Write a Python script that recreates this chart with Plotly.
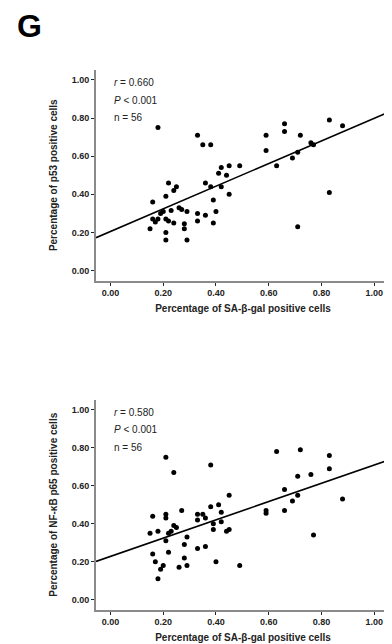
import plotly.graph_objects as go

# ---- data ----
sa_gal_p53 = [0.18, 0.33, 0.35, 0.38, 0.59, 0.59, 0.66, 0.66, 0.72, 0.83, 0.88, 0.76, 0.77, 0.71,
              0.69, 0.63, 0.49, 0.45, 0.42, 0.44, 0.41, 0.36, 0.38, 0.42, 0.45, 0.39, 0.40, 0.36,
              0.33, 0.33, 0.39, 0.29, 0.29, 0.28, 0.28, 0.27, 0.26, 0.24, 0.23, 0.25, 0.24, 0.22,
              0.21, 0.21, 0.21, 0.21, 0.22, 0.20, 0.19, 0.18, 0.17, 0.16, 0.16, 0.15, 0.71, 0.83]
p53 = [0.75, 0.71, 0.66, 0.66, 0.71, 0.63, 0.77, 0.73, 0.71, 0.79, 0.76, 0.67, 0.66, 0.62,
       0.59, 0.55, 0.55, 0.55, 0.54, 0.50, 0.51, 0.46, 0.44, 0.44, 0.40, 0.37, 0.31, 0.29,
       0.30, 0.26, 0.25, 0.31, 0.16, 0.245, 0.22, 0.32, 0.33, 0.25, 0.315, 0.44, 0.42, 0.46,
       0.39, 0.27, 0.20, 0.16, 0.26, 0.31, 0.30, 0.27, 0.255, 0.36, 0.27, 0.22, 0.23, 0.41]

sa_gal_nfkb = [0.21, 0.24, 0.38, 0.63, 0.72, 0.83, 0.83, 0.76, 0.71, 0.66, 0.71, 0.69, 0.88, 0.66,
               0.59, 0.59, 0.45, 0.38, 0.41, 0.42, 0.33, 0.35, 0.36, 0.33, 0.39, 0.42, 0.39, 0.44,
               0.45, 0.27, 0.21, 0.21, 0.16, 0.15, 0.18, 0.24, 0.25, 0.23, 0.22, 0.21, 0.29, 0.28,
               0.36, 0.33, 0.22, 0.16, 0.17, 0.28, 0.20, 0.19, 0.26, 0.29, 0.18, 0.40, 0.49, 0.77]
nfkb_p65 = [0.75, 0.67, 0.71, 0.78, 0.79, 0.76, 0.69, 0.66, 0.65, 0.58, 0.55, 0.52, 0.53, 0.47,
            0.47, 0.455, 0.55, 0.49, 0.50, 0.46, 0.45, 0.45, 0.43, 0.42, 0.40, 0.41, 0.37, 0.36,
            0.37, 0.47, 0.45, 0.43, 0.44, 0.35, 0.36, 0.39, 0.38, 0.36, 0.35, 0.31, 0.33, 0.29,
            0.28, 0.27, 0.25, 0.24, 0.20, 0.22, 0.18, 0.16, 0.17, 0.18, 0.11, 0.20, 0.18, 0.34]

# regression lines (intercept, slope)
fit_p53 = (0.205, 0.594)
fit_nfkb = (0.228, 0.481)

stats_p53 = ["<i>r</i> = 0.660", "<i>P</i> < 0.001", "n = 56"]
stats_nfkb = ["<i>r</i> = 0.580", "<i>P</i> < 0.001", "n = 56"]

x_title = "Percentage of SA-β-gal positive cells"
y_title_top = "Percentage of p53 positive cells"
y_title_bot = "Percentage of NF-κB p65 positive cells"

tick_vals = [0.0, 0.2, 0.4, 0.6, 0.8, 1.0]
tick_text = ["0.00", "0.20", "0.40", "0.60", "0.80", "1.00"]

# ---- layout geometry ----
# the page body has an 8px margin, so the figure starts at (8, 8) in the window
OFF = 8
W, H = 392 - OFF, 644 - OFF
XR = [-0.055, 1.06]
YR = [-0.052, 1.052]
FONT = "Liberation Sans, Arial, sans-serif"


def px_x(p):
    return (p - OFF) / W


def px_y(p):
    return 1 - (p - OFF) / H


fig = go.Figure()

panels = [
    (sa_gal_p53, p53, fit_p53, "x", "y"),
    (sa_gal_nfkb, nfkb_p65, fit_nfkb, "x2", "y2"),
]

for xs, ys, (b0, b1), xa, ya in panels:
    fig.add_trace(go.Scatter(x=xs, y=ys, mode="markers", xaxis=xa, yaxis=ya,
                             marker=dict(color="black", size=5), showlegend=False,
                             hoverinfo="x+y"))
    lx = [XR[0], XR[1] - 0.005]
    fig.add_trace(go.Scatter(x=lx, y=[b0 + b1 * v for v in lx], mode="lines",
                             xaxis=xa, yaxis=ya, line=dict(color="black", width=1.6),
                             showlegend=False, hoverinfo="skip"))

axis_common = dict(
    showgrid=False, zeroline=False, showline=True, linecolor="#8a8a8a", linewidth=2,
    ticks="outside", ticklen=3, tickwidth=1.2, tickcolor="#222",
    tickvals=tick_vals, ticktext=tick_text, automargin=False,
    tickfont=dict(family=FONT, size=9, color="#222", weight="bold"),
)

x_dom = [px_x(96), min(1.0, px_x(390))]
top_dom = [px_y(280.5), px_y(70)]
bot_dom = [px_y(609.5), px_y(400)]

title_font = dict(family=FONT, size=10, color="#222", weight="bold")

fig.update_layout(
    width=W, height=H, margin=dict(l=0, r=0, t=0, b=0, autoexpand=False),
    paper_bgcolor="white", plot_bgcolor="white",
    xaxis=dict(domain=x_dom, range=XR, anchor="y",
               title=dict(text=x_title, font=title_font, standoff=8), **axis_common),
    yaxis=dict(domain=top_dom, range=YR, anchor="x",
               title=dict(text=y_title_top, font=title_font, standoff=12), **axis_common),
    xaxis2=dict(domain=x_dom, range=XR, anchor="y2",
                title=dict(text=x_title, font=title_font, standoff=8), **axis_common),
    yaxis2=dict(domain=bot_dom, range=YR, anchor="x2",
                title=dict(text=y_title_bot, font=title_font, standoff=12), **axis_common),
)

annotations = [dict(text="<b>G</b>", xref="paper", yref="paper", x=px_x(16), y=px_y(25.5),
                    xanchor="left", yanchor="middle", showarrow=False,
                    height=30, valign="middle", borderpad=0,
                    font=dict(family=FONT, size=32, color="black"))]

for stats, yref, xref in [(stats_p53, "y", "x"), (stats_nfkb, "y2", "x2")]:
    for i, s in enumerate(stats):
        annotations.append(dict(text=s, xref=xref, yref=yref, x=0.005, y=0.985 - 0.091 * i,
                                xanchor="left", yanchor="middle", showarrow=False,
                                font=dict(family=FONT, size=10, color="#222")))

fig.update_layout(annotations=annotations)

fig.write_html("out.html")
